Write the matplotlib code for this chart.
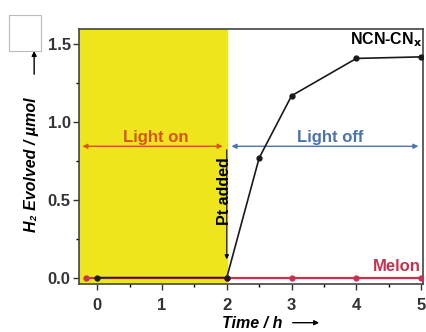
import matplotlib
matplotlib.use("Agg")
import matplotlib.pyplot as plt
from matplotlib.patches import Rectangle, FancyArrowPatch

plt.rcParams['font.family'] = ['Liberation Sans', 'DejaVu Sans']

# data
ncn_time = [0, 2, 2.5, 3, 4, 5]
ncn_h2 = [0.0, 0.0, 0.77, 1.17, 1.41, 1.42]
melon_time = [-0.17, 2, 3, 4, 5]
melon_h2 = [0.0, 0.0, 0.0, 0.0, 0.0]
x_ticks = [0, 1, 2, 3, 4, 5]
y_ticks = [0.0, 0.5, 1.0, 1.5]

fig = plt.figure(figsize=(4.27, 3.32), dpi=100)
ax = fig.add_axes([0.185, 0.145, 0.806, 0.768])

ax.set_xlim(-0.28, 5.03)
ax.set_ylim(-0.04, 1.60)

# light on region
ax.axvspan(-0.28, 2, color='#eee51c', zorder=0)

ax.plot(melon_time, melon_h2, color='#c8324e', lw=1.6, marker='o', ms=3.5, zorder=3)
ax.plot(ncn_time, ncn_h2, color='#1a1a1a', lw=1.2, marker='o', ms=3.5, zorder=4)

# light on / off arrows
ax.annotate('', xy=(-0.27, 0.845), xytext=(1.98, 0.845),
            arrowprops=dict(arrowstyle='<|-|>', color='#d9531e', lw=1.0, mutation_scale=7))
ax.annotate('', xy=(2.03, 0.845), xytext=(5.0, 0.845),
            arrowprops=dict(arrowstyle='<|-|>', color='#4a73b0', lw=1.0, mutation_scale=7))
ax.text(0.9, 0.855, 'Light on', color='#d9531e', fontsize=12, fontweight='bold',
        ha='center', va='bottom')
ax.text(3.6, 0.855, 'Light off', color='#4a73b0', fontsize=12, fontweight='bold',
        ha='center', va='bottom')

# Pt added arrow
ax.annotate('', xy=(2.0, 0.10), xytext=(2.0, 0.84),
            arrowprops=dict(arrowstyle='-|>', color='black', lw=0.8, mutation_scale=6))
ax.text(1.97, 0.555, 'Pt added', rotation=90, fontsize=11.5, fontweight='bold',
        ha='center', va='center')

ax.text(5.02, 1.53, 'NCN-CN$_\\mathbf{x}$', fontsize=11.5, fontweight='bold',
        ha='right', va='center')
ax.text(5.0, 0.07, 'Melon', color='#c8324e', fontsize=12, fontweight='bold',
        ha='right', va='center')

ax.set_xticks(x_ticks)
ax.set_yticks(y_ticks)
ax.set_yticklabels(['%.1f' % v for v in y_ticks])
ax.set_xticks([0.5, 1.5, 2.5, 3.5, 4.5], minor=True)
ax.set_yticks([0.25, 0.75, 1.25], minor=True)
ax.tick_params(labelsize=12, width=1.0, length=4, colors='#333333', pad=2)
ax.tick_params(axis='x', pad=6)
ax.tick_params(which='minor', length=2.5, width=1.0)
for lab in ax.get_xticklabels() + ax.get_yticklabels():
    lab.set_fontweight('bold')
for s in ax.spines.values():
    s.set_linewidth(1.2)
    s.set_color('#444444')

ax.set_xlabel('Time / h', fontsize=11.5, style='italic', fontweight='bold')
ax.xaxis.set_label_coords(0.504, -0.128)
ax.set_ylabel('H\u2082 Evolved / \u00b5mol', fontsize=11.5, style='italic', fontweight='bold')
ax.yaxis.set_label_coords(-0.115, 0.469)

# axis arrows next to the labels
fig.add_artist(FancyArrowPatch((0.679, 0.028), (0.754, 0.028),
               transform=fig.transFigure, arrowstyle='-|>', mutation_scale=7,
               color='black', lw=1.0))
fig.add_artist(FancyArrowPatch((0.080, 0.768), (0.080, 0.855),
               transform=fig.transFigure, arrowstyle='-|>', mutation_scale=7,
               color='black', lw=1.0))

# blank box in the top-left corner
fig.patches.append(Rectangle((0.02, 0.846), 0.075, 0.11, transform=fig.transFigure,
                             facecolor='white', edgecolor='#bbbbbb', lw=0.8))

fig.savefig('out.png', dpi=100)
